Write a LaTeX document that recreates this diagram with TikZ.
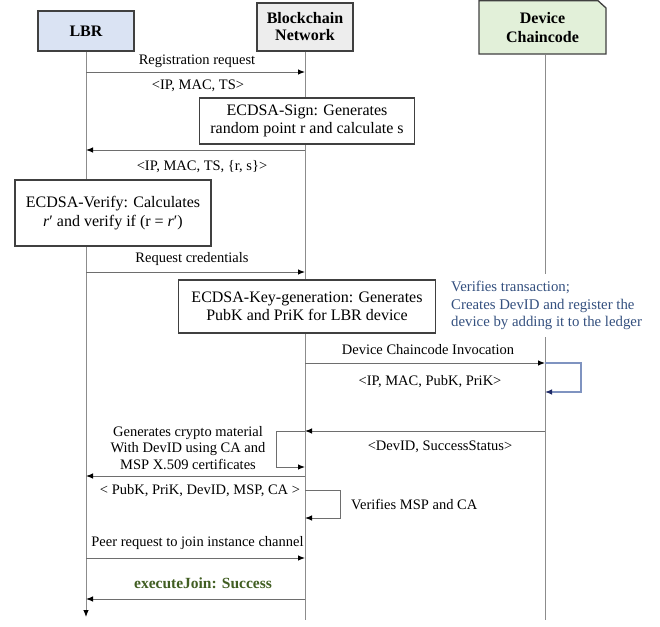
\documentclass[tikz,border=0pt]{standalone}
\usepackage{fontspec}
\setmainfont{Liberation Serif}
\usetikzlibrary{arrows.meta}
\definecolor{lbrfill}{HTML}{DAE3F3}
\definecolor{bnfill}{HTML}{EDEDED}
\definecolor{dcfill}{HTML}{E2F0D9}
\definecolor{boxline}{HTML}{404040}
\definecolor{lifecol}{HTML}{8C8C8C}
\definecolor{msgcol}{HTML}{6E6E6E}
\definecolor{bluetxt}{HTML}{34507F}
\definecolor{greentxt}{HTML}{415E22}
\definecolor{loopblue}{HTML}{7F93C0}
\definecolor{navyhead}{HTML}{1F2A66}
\begin{document}
\begin{tikzpicture}[x=1pt,y=-1pt,
  header/.style={draw=boxline, line width=1.3pt, font=\fontsize{16}{17}\selectfont\bfseries, align=center, inner sep=0pt},
  procbox/.style={draw=boxline, line width=1.3pt, fill=white, font=\fontsize{16}{18.5}\selectfont, align=center, inner sep=0pt},
  lifeline/.style={draw=lifecol, line width=0.9pt},
  tip/.style={-{Latex[length=7pt,width=5.5pt,color=black]}},
  msg/.style={draw=msgcol, line width=1pt, tip},
  lbl/.style={font=\fontsize{14.5}{16.5}\selectfont, inner sep=0pt},
]
\useasboundingbox (0,0) rectangle (660,626);

% headers
\node[header, fill=lbrfill, minimum width=96pt, minimum height=40pt] (lbr) at (86,31) {LBR};
\node[header, fill=bnfill, minimum width=96pt, minimum height=48pt] (bn) at (305,27) {Blockchain\\Network};
\draw[boxline, line width=1.3pt, fill=dcfill] (479,54) -- (479,0.7) -- (598,0.7) -- (606,8) -- (606,54) -- cycle;
\node[font=\fontsize{16}{19}\selectfont\bfseries, align=center, minimum width=127pt, minimum height=54pt, inner sep=0pt] (dc) at (542.5,28) {Device\\Chaincode};

% lifelines
\coordinate (lbrend) at (86,617);
\coordinate (bnend) at (305,620);
\coordinate (dcend) at (545,620);
\draw[lifeline, tip] (lbr.south) -- (lbrend);
\draw[lifeline] (bn.south) -- (bnend);
\draw[lifeline] (dc.south -| dcend) -- (dcend);

% boxes
\node[procbox, minimum width=215pt, minimum height=46pt] (sign) at (307,121) {ECDSA-Sign: Generates\\random point r and calculate s};
\node[procbox, minimum width=196pt, minimum height=66pt] (verify) at (113,213) {ECDSA-Verify: Calculates\\\textit{r}′ and verify if (r = \textit{r}′)};
\node[procbox, minimum width=257pt, minimum height=53pt] (keygen) at (307,306.5) {ECDSA-Key-generation: Generates\\PubK and PriK for LBR device};

% blue note
\node[font=\fontsize{14.8}{17.5}\selectfont, text=bluetxt, align=left, anchor=west, fill=white, inner xsep=1pt, inner ysep=7pt] (note) at (450,305.5) {Verifies transaction;\\Creates DevID and register the\\device by adding it to the ledger};

% message endpoints
\coordinate (l1) at (86,72);   \coordinate (b1) at (305,72);
\coordinate (b2) at (305,150); \coordinate (l2) at (86,150);
\coordinate (l3) at (86,272);  \coordinate (b3) at (305,272);
\coordinate (b4) at (305,363); \coordinate (d4) at (545,363);
\coordinate (d4r) at (545,392);
\coordinate (d5) at (545,431); \coordinate (b5) at (305,431);
\coordinate (b5r) at (305,467);
\coordinate (b6) at (305,476); \coordinate (l6) at (86,476);
\coordinate (b6a) at (305,490); \coordinate (b6r) at (305,518);
\coordinate (l7) at (86,558);  \coordinate (b7) at (305,558);
\coordinate (b8) at (305,599); \coordinate (l8) at (86,599);

% messages
\draw[msg] (l1) -- (b1);
\node[lbl] (t1) at (197,61) {Registration request};
\node[lbl] (t1b) at (198,86) {<IP, MAC, TS>};

\draw[msg] (b2) -- (l2);
\node[lbl] (t2) at (202,167) {<IP, MAC, TS, \{r, s\}>};

\draw[msg] (l3) -- (b3);
\node[lbl] (t3) at (192,259) {Request credentials};

\draw[msg] (b4) -- (d4);
\node[lbl] (t4) at (428,350) {Device Chaincode Invocation};
\draw[draw=loopblue, line width=1.1pt, -{Latex[length=7pt,width=5.5pt,color=navyhead]}] (d4) -- ++(36,0) |- (d4r);
\node[lbl] (t4b) at (430,382) {<IP, MAC, PubK, PriK>};

\draw[msg] (d5) -- (b5);
\node[lbl] (t5) at (440,447) {<DevID, SuccessStatus>};
\draw[msg] (b5) -- ++(-29,0) |- (b5r);
\node[lbl, align=center, font=\fontsize{14.5}{16.5}\selectfont] (t5b) at (188,448) {Generates crypto material\\With DevID using CA and\\MSP X.509 certificates};

\draw[msg] (b6) -- (l6);
\node[lbl] (t6) at (200,491) {< PubK, PriK, DevID, MSP, CA >};
\draw[msg] (b6a) -- ++(35,0) |- (b6r);
\node[lbl, anchor=west] (t6b) at (351,504) {Verifies MSP and CA};

\draw[msg] (l7) -- (b7);
\node[lbl] (t7) at (197.5,543) {Peer request to join instance channel};

\draw[msg] (b8) -- (l8);
\node[font=\fontsize{15.5}{17}\selectfont\bfseries, text=greentxt, inner sep=0pt] (t8) at (203,583) {executeJoin: Success};
\end{tikzpicture}
\end{document}
